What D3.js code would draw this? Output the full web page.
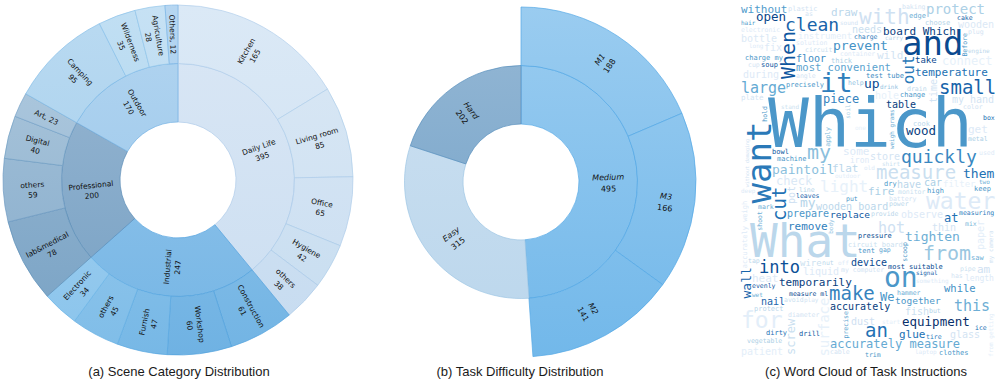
<!DOCTYPE html>
<html>
<head>
<meta charset="utf-8">
<script src="https://cdn.jsdelivr.net/npm/d3@7"></script>
<style>
  body { margin: 0; background: #fff; }
  svg { display: block; }
</style>
</head>
<body>
<svg id="fig" width="996" height="383"></svg>
<script>
// ---- (a) scene categories ----
var sceneGroups = ['Daily Life', 'Industrial', 'Professional', 'Outdoor'];
var sceneNames = [
  ['Kitchen', 'Living room', 'Office', 'Hygiene', 'others'],
  ['Construction', 'Workshop', 'Furnish', 'others', 'Electronic'],
  ['lab&medical', 'others', 'Digital', 'Art'],
  ['Camping', 'Wilderness', 'Agriculture', 'Others']
];
var sceneCounts = [
  [165, 85, 65, 42, 38],
  [61, 60, 47, 45, 34],
  [78, 59, 40, 23],
  [95, 35, 28, 12]
];

// ---- (b) task difficulty ----
var levels = ['Medium', 'Easy', 'Hard'];
var levelCounts = [495, 315, 202];
var mediumParts = ['M1', 'M3', 'M2'];
var mediumCounts = [188, 166, 141];

// ---- (c) word cloud ----
var cloudWords = [
  'Which', 'What', 'and', 'want', 'on', 'it', 'water', 'for', 'with', 'my',
  'from', 'measure', 'make', 'small', 'When', 'clean', 'quickly', 'cut', 'an', 'into',
  'out', 'light', 'surface', 'this', 'large', 'hot', 'protect', 'paintoil', 'accurately measure', 'tighten',
  'equipment', 'prevent', 'them', 'wall', 'open', 'wood', 'connect', 'check', 'up', 'board Which',
  'some', 'observe', 'dust', 'wooden', 'am', 'We', 'without', 'fire', 'while', 'prepare',
  'temporarily', 'temperature', 'most convenient', 'remove', 'piece', 'device', 'floor', 'car', 'glue', 'nail',
  'table', 'replace', 'together', 'at', 'screw', 'wooden board', 'draw', 'glass', 'bottle', 'store',
  'liquid', 'time', 'pot', 'fish', 'instrument', 'hole', 'paper', 'patient', 'get', 'heat',
  'wild', 'needs', 'during', 'thin', 'filter', 'fix', 'wire', 'have', 'accurately', 'take',
  'my', 'my hand', 'flat', 'iron', 'length', 'pressure', 'measure ml', 'color', 'leaves', 'drill',
  'tire', 'stand', 'charge', 'choose', 'used', 'evenly', 'help', 'line', 'but', 'signal',
  'sound', 'two', 'hold', 'wet', 'scoop', 'cable', 'cake', 'electronic', 'drink', 'body',
  'laptop', 'long', 'gap', 'bowl', 'circuit', 'monitor', 'shirt', 'off', 'most suitable', 'avoid',
  'drain', 'engine', 'deep', 'put', 'ice', 'thick', 'solution', 'battery', 'nut', 'keep',
  'something', 'protect', 'change', 'circuit board', 'clothes', 'soil', 'without damaging', 'from getting', 'Before', 'carry',
  'one', 'plastic', 'cook', 'tent', 'mark', 'test tube', 'hammer', 'provide', 'mix', 'vegetable',
  'container', 'apply', 'precisely', 'has', 'angle', 'my computer', 'my camera', 'accurately weigh', 'charge my', 'precise',
  'hair', 'box', 'shoot', 'old', 'high', 'dirty', 'trim', 'as', 'edge', 'metal',
  'machine', 'tap', 'saw', 'baking', 'measuring', 'play', 'soup', 'plate', 'dry', 'weigh grams',
  'pipe', 'cup', 'power', 'diameter', 'plug', 'outdoor', 'start'
];
var cloudWeights = [
  68, 46, 34, 34, 28, 27, 23, 23, 21, 20,
  20, 19, 19, 19, 20, 18, 18, 19, 19, 17,
  16, 16, 14, 15, 15, 15, 14, 13, 12, 13,
  12.5, 13, 13, 13, 12.5, 12.5, 12, 12, 13, 11,
  11, 10, 10, 10, 11, 12, 11, 11, 10.5, 10,
  11, 11, 10.5, 11, 12, 10, 10, 10, 11, 10,
  10, 9.5, 9.5, 12, 12, 10, 11, 10, 10, 10,
  10, 10, 10, 10, 9, 10, 10, 10, 11, 11,
  11, 10, 10, 10, 9, 10, 9, 10, 10, 9,
  13, 10, 11, 8, 8, 7, 6.5, 6.5, 6.5, 7,
  6.5, 6, 6.5, 7, 6.5, 6.5, 6.5, 6.5, 6.5, 6,
  6, 6, 6.5, 6, 6.5, 6.5, 6.5, 6.5, 6, 6,
  6, 6, 6.5, 7, 6.5, 6.5, 6, 6, 7, 6.5,
  6.5, 6, 6, 6.5, 6.5, 7, 6.5, 6.5, 6.5, 7,
  6, 7, 7, 7, 7, 6, 6, 6, 6.5, 6,
  6, 7, 7, 7, 6.5, 7, 6.5, 6.5, 6.5, 6.5,
  6.5, 6.5, 7, 6.5, 6.5, 6.5, 6, 7, 7, 6.5,
  6, 6.5, 6.5, 6, 7, 7, 6.5, 6.5, 7, 6.5,
  7, 6.5, 7, 6.5, 6.5, 6, 7, 7.5, 7, 6,
  6.5, 6.5, 6.5, 6.5, 6.5, 6, 6
];
var cloudShades = [
  .6, .28, .9, .72, .6, .7, .13, .1, .2, .42,
  .38, .22, .68, .8, .85, .8, .66, .75, .75, .88,
  .72, .08, .08, .5, .52, .2, .33, .42, .52, .5,
  1, .62, .75, .8, .92, .95, .08, .14, .9, .95,
  .13, .13, .2, .14, .2, .6, .58, .33, .62, .6,
  .95, .75, .55, .7, .68, .9, .65, .33, .75, .8,
  .95, .85, .6, .75, .22, .28, .28, .18, .14, .18,
  .13, .18, .2, .22, .1, .08, .1, .1, .13, .13,
  .18, .22, .13, .18, .08, .13, .22, .28, .95, .9,
  .3, .18, .28, .13, .13, .9, .9, .18, .8, .85,
  .7, .22, .7, .3, .13, .85, .4, .3, .3, .8,
  .18, .5, .6, .5, .6, .18, .8, .13, .4, .4,
  .13, .13, .55, .85, .22, .22, .22, .13, .9, .22,
  .28, .28, .13, .6, .75, .33, .13, .18, .28, .6,
  .13, .28, .6, .22, .6, .33, .18, .1, .6, .28,
  .08, .18, .28, .6, .5, .65, .5, .28, .45, .33,
  .13, .45, .6, .18, .18, .18, .18, .13, .6, .55,
  .6, .75, .5, .13, .6, .75, .6, .18, .5, .33,
  .6, .28, .5, .18, .7, .18, .85, .18, .6, .5,
  .22, .18, .28, .18, .18, .1, .1
];
var cloudVertical = [
  0, 0, 0, 1, 0, 0, 0, 0, 0, 0,
  0, 0, 0, 0, 1, 0, 0, 1, 0, 0,
  1, 0, 1, 0, 0, 0, 0, 0, 0, 0,
  0, 0, 0, 1, 0, 0, 0, 0, 0, 0,
  0, 0, 0, 0, 0, 0, 0, 0, 0, 0,
  0, 0, 0, 0, 0, 0, 0, 0, 0, 0,
  0, 0, 0, 0, 1, 0, 0, 0, 0, 0,
  0, 1, 1, 0, 0, 0, 1, 0, 0, 0,
  0, 0, 0, 0, 0, 0, 0, 0, 0, 0,
  0, 0, 0, 0, 0, 0, 0, 0, 0, 0,
  0, 0, 0, 0, 0, 0, 0, 0, 0, 0,
  0, 0, 1, 0, 1, 0, 0, 0, 0, 1,
  0, 0, 0, 0, 0, 0, 0, 0, 0, 0,
  0, 0, 0, 0, 0, 0, 0, 0, 0, 0,
  0, 0, 0, 0, 0, 1, 1, 1, 1, 0,
  0, 0, 0, 0, 0, 0, 0, 0, 0, 0,
  0, 1, 0, 0, 0, 0, 1, 1, 0, 1,
  0, 0, 1, 0, 0, 0, 0, 0, 0, 0,
  0, 0, 0, 0, 0, 0, 0, 0, 0, 1,
  0, 0, 0, 0, 0, 0, 0
];

// fill colours (mid tone; a light-to-dark vertical gradient is laid over each)
var sceneInnerColors = ['#d3e3f3', '#89c0e9', '#88accb', '#a5cded'];
var sceneOuterColors = [
  ['#d5e5f4', '#d3e4f3', '#d2e3f3', '#d0e2f2', '#cfe1f2'],
  ['#87bfe8', '#84bde7', '#8cc3ea', '#93c7ec', '#9ccdef'],
  ['#8aaecc', '#98b8d3', '#9ebdd6', '#a3c1d9'],
  ['#aed4ef', '#b6d9f1', '#bcdcf2', '#a9cfee']
];
var levelColors = ['#88c3ed', '#c5dcef', '#82abcd'];
var mediumColors = ['#88c3ed', '#88c3ed', '#88c3ed'];

var svg = d3.select('#fig');
var defs = svg.append('defs');
var labelFont = '"DejaVu Sans", sans-serif';

function drawSunburst(tree, cx, cy, tag, colorOf, opts) {
  var root = d3.hierarchy(tree).sum(function(d) { return d.value || 0; });
  d3.partition().size([2 * Math.PI, 3])(root);

  var radius = d3.scaleLinear().domain([1, 3]).range([58, 175]);
  var arc = d3.arc()
    .startAngle(function(d) { return d.x0; })
    .endAngle(function(d) { return d.x1; })
    .innerRadius(function(d) { return radius(d.y0); })
    .outerRadius(function(d) { return radius(d.y1); });

  var nodes = root.descendants().filter(function(d) { return d.depth > 0; });

  nodes.forEach(function(d, i) {
    var base = d3.hsl(colorOf(d));
    var top = d3.interpolateRgb(colorOf(d), '#ffffff')(0.15);
    var drop = 0.05 * Math.min(1, (1 - base.l) / 0.27);
    var bot = d3.hsl(base.h, base.s, base.l - drop);
    var gr = defs.append('linearGradient')
      .attr('id', tag + i)
      .attr('gradientUnits', 'userSpaceOnUse')
      .attr('x1', 0).attr('x2', 0).attr('y1', -175).attr('y2', 175);
    gr.append('stop').attr('offset', 0).attr('stop-color', top);
    gr.append('stop').attr('offset', 1).attr('stop-color', bot.formatHex());
    d.fillRef = 'url(#' + tag + i + ')';
    d.edge = d3.hsl(base.h, base.s, base.l - 0.07 - drop).formatHex();
  });

  var g = svg.append('g').attr('transform', 'translate(' + cx + ',' + cy + ')');

  g.selectAll('path').data(nodes).enter().append('path')
    .attr('d', arc)
    .attr('fill', function(d) { return d.fillRef; })
    .attr('stroke', function(d) { return d.edge; })
    .attr('stroke-width', 0.7);

  var labels = g.selectAll('text').data(nodes).enter().append('text')
    .attr('text-anchor', 'middle')
    .style('font-family', labelFont)
    .style('font-size', opts.size + 'px')
    .attr('fill', '#111')
    .attr('transform', function(d) {
      var a = (d.x0 + d.x1) / 2;
      var r = (radius(d.y0) + radius(d.y1)) / 2;
      var deg = a * 180 / Math.PI;
      var rot = deg < 180 ? deg - 90 : deg - 270;
      return 'translate(' + (r * Math.sin(a)) + ',' + (-r * Math.cos(a)) + ') rotate(' + rot + ')';
    });

  labels.each(function(d) {
    var t = d3.select(this);
    var narrow = (d.x1 - d.x0) * 180 / Math.PI < 9;
    if (narrow) {
      t.append('tspan').attr('y', opts.size * 0.35)
        .style('font-style', opts.italic ? 'italic' : 'normal')
        .text(d.data.name + ', ' + d.value);
    } else {
      t.append('tspan').attr('x', 0).attr('y', opts.line1)
        .style('font-style', opts.italic ? 'italic' : 'normal')
        .text(d.data.name);
      t.append('tspan').attr('x', 0).attr('y', opts.line2)
        .text(d.value);
    }
  });
}

// (a)
var sceneTree = {
  name: 'root',
  children: sceneGroups.map(function(gname, i) {
    return {
      name: gname, gi: i,
      children: sceneNames[i].map(function(n, j) {
        return { name: n, gi: i, ci: j, value: sceneCounts[i][j] };
      })
    };
  })
};
drawSunburst(sceneTree, 178, 180, 'ga', function(d) {
  return d.depth === 1 ? sceneInnerColors[d.data.gi] : sceneOuterColors[d.data.gi][d.data.ci];
}, { size: 7.5, line1: -1, line2: 9, italic: false });

// (b)
var levelTree = {
  name: 'root',
  children: levels.map(function(l, i) {
    var node = { name: l, gi: i };
    if (l === 'Medium') {
      node.children = mediumParts.map(function(m, j) {
        return { name: m, gi: i, ci: j, value: mediumCounts[j] };
      });
    } else {
      node.value = levelCounts[i];
    }
    return node;
  })
};
drawSunburst(levelTree, 521, 182, 'gb', function(d) {
  return d.depth === 1 ? levelColors[d.data.gi] : mediumColors[d.data.ci];
}, { size: 8, line1: 1, line2: 12.5, italic: true });

// ---- (c) word cloud layout (own simple placer, largest first) ----
var cloudX = 740, cloudY = 3, cloudW = 256, cloudH = 355;
var cloudFont = '"DejaVu Sans Mono", monospace';
var sizeScale = d3.scaleLinear()
  .domain([d3.min(cloudWeights), d3.max(cloudWeights)])
  .range([6, 68]);
var shade = d3.scaleSequential(d3.interpolateBlues).domain([0, 1]);

var canvas = document.createElement('canvas');
canvas.width = cloudW;
canvas.height = cloudH;
var ctx = canvas.getContext('2d', { willReadFrequently: true });
ctx.fillStyle = '#000';
ctx.textBaseline = 'alphabetic';
ctx.textAlign = 'left';

var W1 = cloudW + 1;
var integral = new Int32Array(W1 * (cloudH + 1));

function rebuildIntegral() {
  var px = ctx.getImageData(0, 0, cloudW, cloudH).data;
  for (var y = 0; y < cloudH; y++) {
    var row = 0;
    for (var x = 0; x < cloudW; x++) {
      row += px[(y * cloudW + x) * 4 + 3] > 40 ? 1 : 0;
      integral[(y + 1) * W1 + x + 1] = integral[y * W1 + x + 1] + row;
    }
  }
}
function boxSum(x, y, w, h) {
  return integral[(y + h) * W1 + x + w] - integral[y * W1 + x + w]
       - integral[(y + h) * W1 + x] + integral[y * W1 + x];
}
function halton(i, b) {
  var f = 1, r = 0;
  while (i > 0) { f /= b; r += f * (i % b); i = Math.floor(i / b); }
  return r;
}

var order = d3.range(cloudWords.length).sort(function(a, b) {
  return cloudWeights[b] - cloudWeights[a];
});

var placed = [];
order.forEach(function(idx, k) {
  var word = cloudWords[idx];
  var vert = cloudVertical[idx] === 1;
  var fs = sizeScale(cloudWeights[idx]);
  var tx = halton(k + 1, 2) * cloudW;
  var ty = halton(k + 1, 3) * cloudH;

  while (fs >= 4.5) {
    ctx.font = fs + 'px ' + cloudFont;
    var m = ctx.measureText(word);
    var left = Math.max(0, m.actualBoundingBoxLeft), right = m.actualBoundingBoxRight;
    var asc = m.actualBoundingBoxAscent, desc = Math.max(0, m.actualBoundingBoxDescent);
    var tw = Math.ceil(left + right) + 2, th = Math.ceil(asc + desc) + 2;
    var bw = vert ? th : tw, bh = vert ? tw : th;
    var best = null, bestD = Infinity;
    for (var y = 0; y <= cloudH - bh; y++) {
      for (var x = 0; x <= cloudW - bw; x++) {
        if (boxSum(x, y, bw, bh) !== 0) continue;
        var dx = x + bw / 2 - tx, dy = y + bh / 2 - ty;
        var dd = dx * dx + dy * dy;
        if (dd < bestD) { bestD = dd; best = [x, y]; }
      }
    }
    if (best) {
      var ox, oy;
      if (vert) {
        ox = best[0] + 1 + asc;
        oy = best[1] + 1 + right;
        ctx.save();
        ctx.translate(ox, oy);
        ctx.rotate(-Math.PI / 2);
        ctx.fillText(word, 0, 0);
        ctx.restore();
      } else {
        ox = best[0] + 1 + left;
        oy = best[1] + 1 + asc;
        ctx.fillText(word, ox, oy);
      }
      rebuildIntegral();
      placed.push({ word: word, size: fs, vert: vert, x: ox, y: oy, tone: cloudShades[idx] });
      return;
    }
    fs -= 0.5;
  }
});

svg.append('g')
  .attr('transform', 'translate(' + cloudX + ',' + cloudY + ')')
  .selectAll('text').data(placed).enter().append('text')
  .attr('transform', function(d) {
    return 'translate(' + d.x + ',' + d.y + ')' + (d.vert ? ' rotate(-90)' : '');
  })
  .style('font-family', cloudFont)
  .style('font-size', function(d) { return d.size + 'px'; })
  .attr('fill', function(d) { return shade(d.tone); })
  .text(function(d) { return d.word; });

// ---- captions ----
var captions = ['(a) Scene Category Distribution', '(b) Task Difficulty Distribution', '(c) Word Cloud of Task Instructions'];
var captionX = d3.scaleOrdinal().domain(captions).range([179, 520, 866]);
svg.selectAll('text.caption').data(captions).enter().append('text')
  .attr('class', 'caption')
  .attr('x', function(d) { return captionX(d); })
  .attr('y', 376)
  .attr('text-anchor', 'middle')
  .style('font-family', '"Liberation Sans", Arial, sans-serif')
  .style('font-size', '13px')
  .attr('fill', '#1a1a1a')
  .text(function(d) { return d; });
</script>
</body>
</html>
